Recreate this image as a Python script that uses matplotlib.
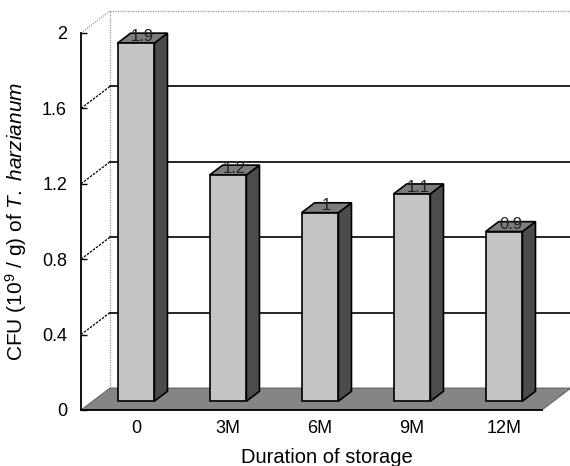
import matplotlib
matplotlib.use("Agg")
import matplotlib.pyplot as plt
from matplotlib.patches import Polygon

plt.rcParams['font.family'] = ['Liberation Sans', 'DejaVu Sans']
plt.rcParams['mathtext.fontset'] = 'custom'
plt.rcParams['mathtext.rm'] = 'Liberation Sans'
plt.rcParams['mathtext.it'] = 'Liberation Sans:italic'

# ---- data ----
categories = ["0", "3M", "6M", "9M", "12M"]
values = [1.9, 1.2, 1.0, 1.1, 0.9]
value_labels = ["1.9", "1.2", "1", "1.1", "0.9"]
yticks = [0, 0.4, 0.8, 1.2, 1.6, 2]
ytick_labels = ["0", "0.4", "0.8", "1.2", "1.6", "2"]

# ---- 3D-look geometry (data units) ----
DX, DY = 0.315, 0.1167          # full floor depth offset
T1, T2 = 0.40, 0.85             # bar front / back depth
BW = 0.40                       # bar width
XL, XR = -0.598, 4.413          # floor front-left / front-right
XMAX, YMAX = 4.717, 2.175

fig = plt.figure(figsize=(5.7, 4.66), dpi=100)
ax = fig.add_axes([81/570, 56/466, 489/570, 410/466])
ax.set_xlim(XL, XMAX)
ax.set_ylim(0, YMAX)

# back wall edges
ax.plot([XL + DX, XL + DX], [DY, 2 + DY], color='#999999', lw=0.9, ls=(0, (1, 1)), zorder=1)
ax.plot([XL + DX, XMAX], [2 + DY, 2 + DY], color='#999999', lw=0.9, ls=(0, (1, 1)), zorder=1)
ax.plot([XL, XL + DX], [2, 2 + DY], color='#999999', lw=0.9, ls=(0, (1, 1)), zorder=1)
# gridlines
for v in yticks[1:-1]:
    ax.plot([XL + DX, XMAX], [v + DY, v + DY], color='black', lw=1.2, zorder=1)
    ax.plot([XL, XL + DX], [v, v + DY], color='black', lw=0.9, ls=(0, (2, 1)), zorder=1)

# floor
floor = Polygon([(XL, 0), (XR, 0), (XR + DX, DY), (XL + DX, DY)], closed=True,
                facecolor='#858585', edgecolor='#555555', lw=0.6, zorder=2)
ax.add_patch(floor)

# bars
b = T1 * DY
ddx, ddy = (T2 - T1) * DX, (T2 - T1) * DY
xs = list(range(len(categories)))
ax.bar(xs, values, width=BW, bottom=b, color='#c4c4c4', edgecolor='black', lw=1.2, zorder=4)
for x, v, lab in zip(xs, values, value_labels):
    top = v + b
    xl, xr = x - BW / 2, x + BW / 2
    side = Polygon([(xr, b), (xr + ddx, b + ddy), (xr + ddx, top + ddy), (xr, top)],
                   closed=True, facecolor='#4c4c4c', edgecolor='black', lw=1.2, zorder=3)
    topf = Polygon([(xl, top), (xr, top), (xr + ddx, top + ddy), (xl + ddx, top + ddy)],
                   closed=True, facecolor='#7c7c7c', edgecolor='black', lw=1.2, zorder=3)
    ax.add_patch(side)
    ax.add_patch(topf)
    ax.text(x + 0.07, top + 0.012, lab, ha='center', va='baseline', fontsize=12,
            color='#222222', zorder=6)

# axes styling
for s in ['top', 'right']:
    ax.spines[s].set_visible(False)
ax.spines['left'].set_bounds(0, 2)
ax.spines['bottom'].set_bounds(XL, XR)
ax.spines['left'].set_linewidth(1.3)
ax.spines['bottom'].set_linewidth(1.3)
ax.spines['left'].set_zorder(5)
ax.spines['bottom'].set_zorder(5)

ax.set_yticks(yticks)
ax.set_yticklabels(ytick_labels)
ax.tick_params(axis='y', direction='in', length=4, width=1, pad=10, labelsize=13)
ax.set_xticks(xs)
ax.set_xticklabels(categories)
ax.tick_params(axis='x', length=0, pad=7, labelsize=13)
ax.set_xticks([x + 0.41 for x in xs[:-1]], minor=True)
ax.tick_params(axis='x', which='minor', direction='in', length=4, width=1)

ax.set_xlabel("Duration of storage", fontsize=14.5)
ax.xaxis.set_label_coords(0.503, -0.093)
ax.set_ylabel(r"CFU (10$^{9}$ / g) of $\it{T.\ harzianum}$", fontsize=15)
ax.yaxis.set_label_coords(-0.106, 0.459)

fig.savefig("out.png", dpi=100)
